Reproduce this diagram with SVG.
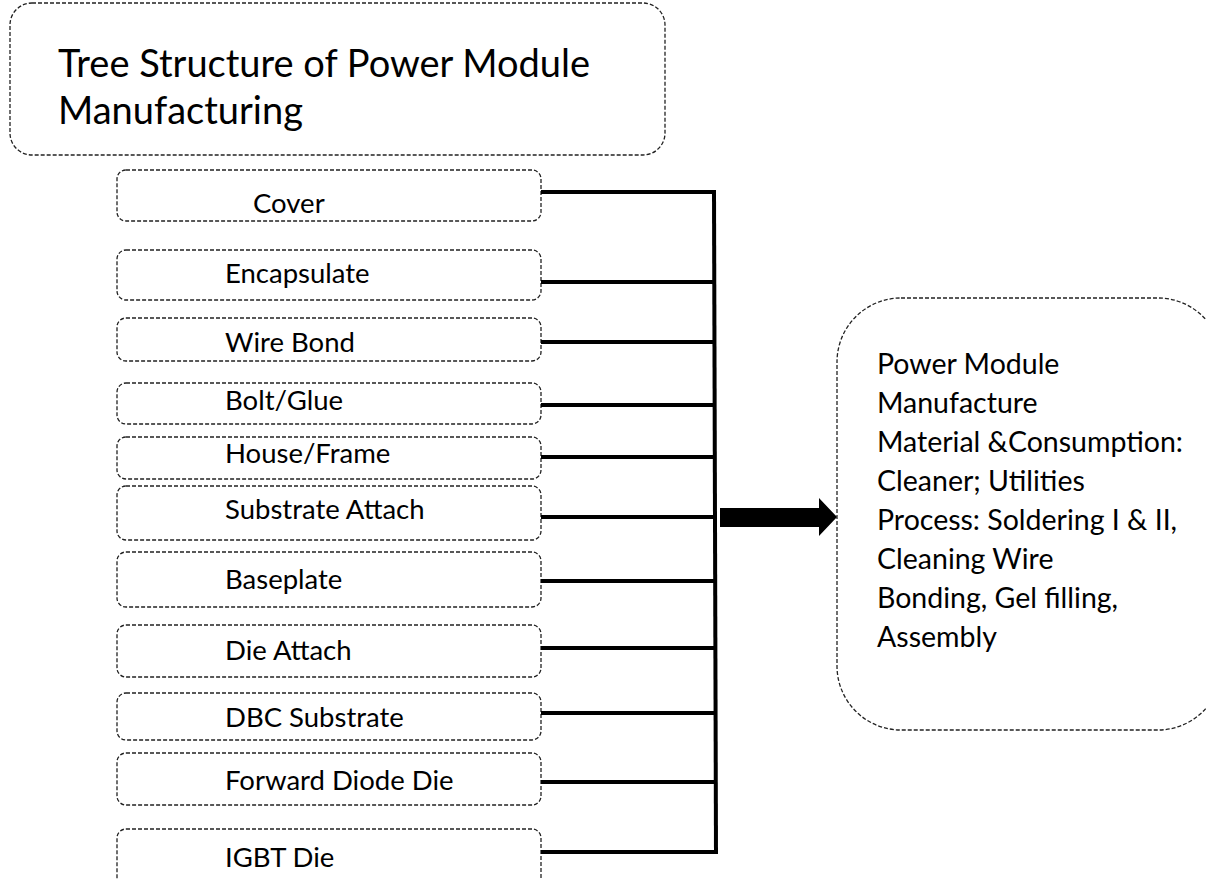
<svg xmlns="http://www.w3.org/2000/svg" width="1206" height="879" viewBox="0 0 1206 879">
  <style>
    .box { fill: #ffffff; stroke: #222222; stroke-width: 1.3; stroke-dasharray: 4 2; }
    .lbl { font-family: Lato, "Liberation Sans", sans-serif; font-size: 27.5px; fill: #000000; }
    .title { font-family: Lato, "Liberation Sans", sans-serif; font-size: 38px; fill: #000000; }
    .body { font-family: Lato, "Liberation Sans", sans-serif; font-size: 28.5px; fill: #000000; }
    .wire { stroke: #000000; stroke-width: 4; fill: none; }
  </style>
  <rect width="1206" height="879" fill="#ffffff"/>

  <g id="title">
    <rect class="box" x="10" y="3" width="655" height="152" rx="22"/>
    <text class="title" x="58" y="77">Tree Structure of Power Module</text>
    <text class="title" x="58" y="124">Manufacturing</text>
  </g>

  <g id="cover">
    <rect class="box" x="117" y="170" width="424" height="51" rx="9"/>
    <text class="lbl" x="253" y="213">Cover</text>
  </g>
  <g id="encapsulate">
    <rect class="box" x="117" y="250" width="424" height="50" rx="9"/>
    <text class="lbl" x="225" y="283">Encapsulate</text>
  </g>
  <g id="wire-bond">
    <rect class="box" x="117" y="318" width="424" height="43" rx="9"/>
    <text class="lbl" x="225" y="352">Wire Bond</text>
  </g>
  <g id="bolt-glue">
    <rect class="box" x="117" y="383" width="424" height="41" rx="9"/>
    <text class="lbl" x="225" y="410">Bolt/Glue</text>
  </g>
  <g id="house-frame">
    <rect class="box" x="117" y="437" width="424" height="42" rx="9"/>
    <text class="lbl" x="225" y="463">House/Frame</text>
  </g>
  <g id="substrate-attach">
    <rect class="box" x="117" y="486" width="424" height="54" rx="9"/>
    <text class="lbl" x="225" y="519">Substrate Attach</text>
  </g>
  <g id="baseplate">
    <rect class="box" x="117" y="552" width="424" height="55" rx="9"/>
    <text class="lbl" x="225" y="589">Baseplate</text>
  </g>
  <g id="die-attach">
    <rect class="box" x="117" y="625" width="424" height="52" rx="9"/>
    <text class="lbl" x="225" y="660">Die Attach</text>
  </g>
  <g id="dbc-substrate">
    <rect class="box" x="117" y="693" width="424" height="47" rx="9"/>
    <text class="lbl" x="225" y="727">DBC Substrate</text>
  </g>
  <g id="forward-diode-die">
    <rect class="box" x="117" y="753" width="424" height="52" rx="9"/>
    <text class="lbl" x="225" y="790">Forward Diode Die</text>
  </g>
  <g id="igbt-die">
    <rect class="box" x="117" y="829" width="424" height="70" rx="9"/>
    <text class="lbl" x="225" y="867">IGBT Die</text>
  </g>

  <g id="result">
    <rect class="box" x="837" y="298" width="385" height="432" rx="64"/>
    <text class="body" x="877" y="374">Power Module</text>
    <text class="body" x="877" y="413">Manufacture</text>
    <text class="body" x="877" y="452">Material &amp;Consumption:</text>
    <text class="body" x="877" y="491">Cleaner; Utilities</text>
    <text class="body" x="877" y="530">Process: Soldering I &amp; II,</text>
    <text class="body" x="877" y="569">Cleaning Wire</text>
    <text class="body" x="877" y="608">Bonding, Gel filling,</text>
    <text class="body" x="877" y="647">Assembly</text>
  </g>

  <g id="connectors">
    <path class="wire" d="M541 192 H714 M541 282 H714 M541 342 H714 M541 405 H714 M541 457 H714 M541 517 H714 M541 581 H714 M541 648 H714 M541 713 H714 M541 782 H714 M541 852 H714"/>
    <path class="wire" d="M714 190 L716 854"/>
    <polygon points="720,508 819,508 819,498 837,517 819,536 819,527 720,527" fill="#000000"/>
  </g>
</svg>
